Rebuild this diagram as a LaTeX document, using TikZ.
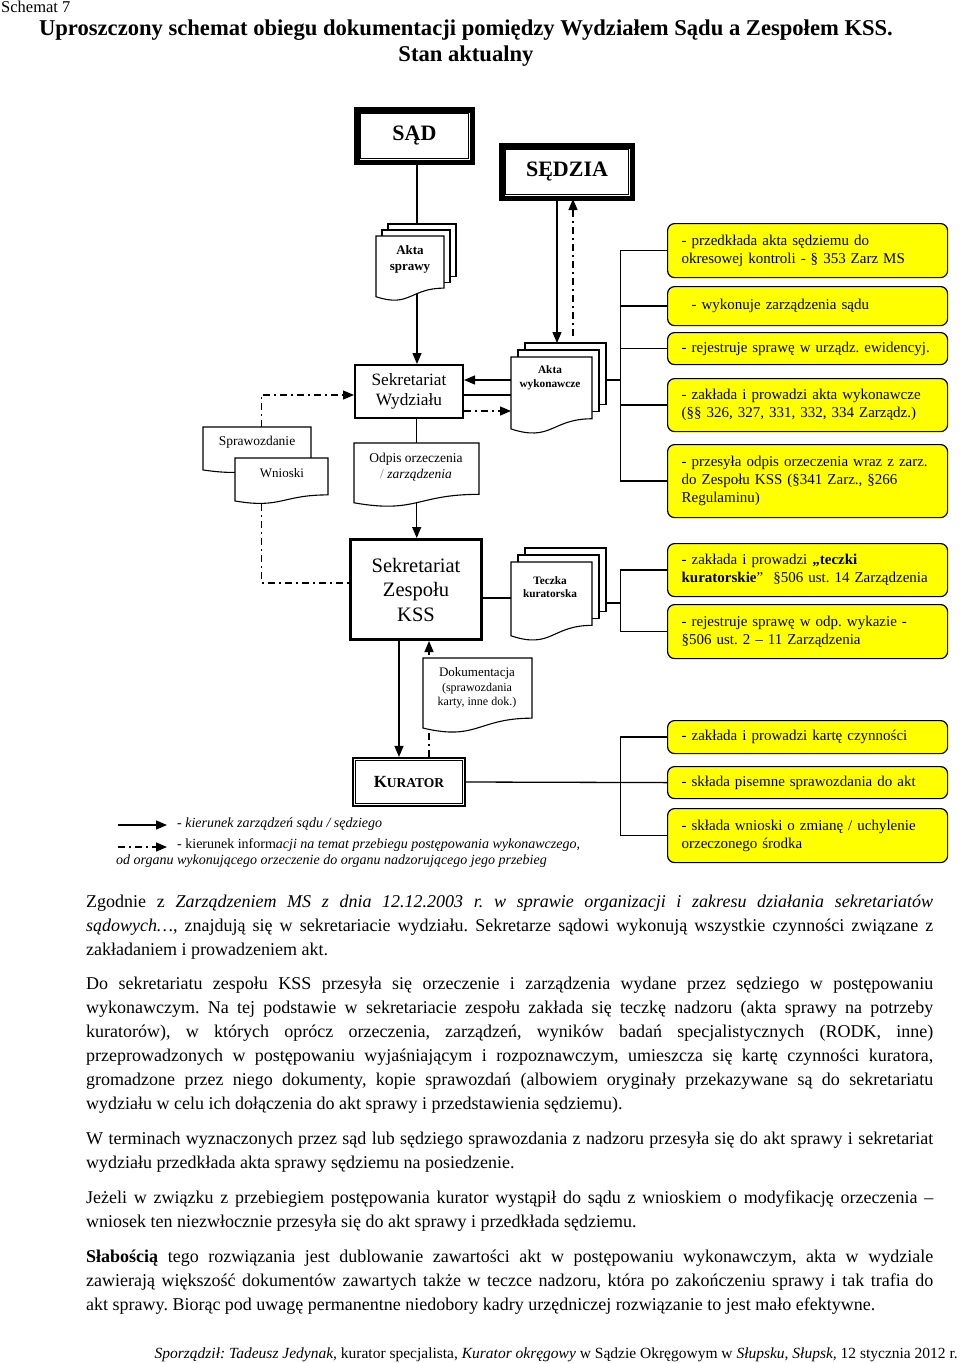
\documentclass[tikz,border=0pt]{standalone}
\usepackage{fontspec}
\setmainfont{Liberation Serif}
\usetikzlibrary{arrows.meta,calc}
\definecolor{ylw}{HTML}{FFFF00}
\newcommand\fs[2]{\fontsize{#1}{#2}\selectfont}
\newcommand\jl[1]{\makebox[847pt][s]{\spaceskip=0pt\xspaceskip=0pt #1}\\}
\begin{document}
\frenchspacing
\begin{tikzpicture}[x=1pt,y=-1pt,
  ln/.style={draw=black,line width=1.3pt},
  arr/.style={-{Triangle[length=11pt,width=9pt]}},
  dd/.style={dash pattern=on 7pt off 4pt on 2pt off 4pt},
  ybox/.style={draw=black,line width=1.2pt,fill=ylw,rounded corners=7pt,minimum width=280pt,
    text width=252pt,inner xsep=14pt,inner ysep=0pt,align=left,anchor=north west,font=\fs{15}{18}},
  docline/.style={draw=black,line width=1.1pt,fill=white},
  docbox/.style={inner sep=0pt,anchor=north west},
  dbl/.style={draw=black,fill=white,inner sep=0pt,font=\fs{22}{24}\bfseries},
  body/.style={anchor=north west,inner sep=0pt,text width=847pt,align=justify,font=\fs{18}{24}},
]
\useasboundingbox (0,0) rectangle (960,1363);
\fill[white] (0,0) rectangle (960,1363);

% ---------- titles
\node[anchor=west,font=\fs{16.5}{18},inner sep=0pt] (sch) at (1,7) {Schemat 7};
\node[font=\fs{22.6}{26}\bfseries,inner sep=0pt] (tit1) at (466,30) {Uproszczony schemat obiegu dokumentacji pomiędzy Wydziałem Sądu a Zespołem KSS.};
\node[font=\fs{22.6}{26}\bfseries,inner sep=0pt] (tit2) at (466,56) {Stan aktualny};

% ---------- main boxes
\node[dbl,line width=3.5pt,minimum width=113.5pt,minimum height=50.5pt] (sad) at (414.5,136) {SĄD};
\node[dbl,line width=3.5pt,minimum width=128.5pt,minimum height=50.5pt] (sedz) at (567,172) {SĘDZIA};
\node[draw=black,fill=white,line width=2.2pt,minimum width=107.8pt,minimum height=52.8pt,inner sep=0pt,
  align=center,font=\fs{17.3}{20}] (sw) at (409,391.5) {Sekretariat\\Wydziału};
\node[draw=black,fill=white,line width=3pt,minimum width=131pt,minimum height=100pt,inner sep=0pt,
  align=center,font=\fs{20.5}{24.5}] (kss) at (416,589.5) {Sekretariat\\Zespołu\\KSS};
\node[draw=black,fill=white,line width=1.6pt,minimum width=112.5pt,minimum height=48.5pt,inner sep=0pt,
  font=\bfseries] (kur) at (409,782) {{\fs{17}{20}K}{\fs{13.5}{20}URATOR}};

% ---------- yellow boxes
\node[ybox,minimum height=54pt] (y1) at (667,223) {\mbox{- przedkłada akta sędziemu do}\\\mbox{okresowej kontroli - § 353 Zarz MS}};
\node[ybox,minimum height=39pt] (y2) at (667,286) {\mbox{\ \ - wykonuje zarządzenia sądu}};
\node[ybox,minimum height=32pt] (y3) at (667,332) {\mbox{- rejestruje sprawę w urządz. ewidencyj.}};
\node[ybox,minimum height=53pt] (y4) at (667,378) {\mbox{- zakłada i prowadzi akta wykonawcze}\\\mbox{(§§ 326, 327, 331, 332, 334 Zarządz.)}};
\node[ybox,minimum height=73pt] (y5) at (667,444) {\mbox{- przesyła odpis orzeczenia wraz z zarz.}\\\mbox{do Zespołu KSS (§341 Zarz., §266}\\\mbox{Regulaminu)}};
\node[ybox,minimum height=53pt] (y6) at (667,543) {\mbox{- zakłada i prowadzi \textbf{„teczki}}\\\mbox{\textbf{kuratorskie}”\ \ §506 ust. 14 Zarządzenia}};
\node[ybox,minimum height=54pt] (y7) at (667,604) {\mbox{- rejestruje sprawę w odp. wykazie -}\\\mbox{§506 ust. 2 – 11 Zarządzenia}};
\node[ybox,minimum height=33pt] (y8) at (667,720) {\mbox{- zakłada i prowadzi kartę czynności}};
\node[ybox,minimum height=32pt] (y9) at (667,766) {\mbox{- składa pisemne sprawozdania do akt}};
\node[ybox,minimum height=54pt] (y10) at (667,808) {\mbox{- składa wnioski o zmianę / uchylenie}\\\mbox{orzeczonego środka}};

% ---------- document anchor nodes (shapes drawn later, over the connectors)
\node[docbox,minimum width=68pt,minimum height=65pt] (asp) at (376,236) {};
\node[docbox,minimum width=81pt,minimum height=77pt] (akw) at (511,357) {};
\node[docbox,minimum width=81pt,minimum height=61.75pt] (akwback) at (525,343) {};
\node[docbox,minimum width=81pt,minimum height=79pt] (tcz) at (511,562) {};
\node[docbox,minimum width=81pt,minimum height=63.4pt] (tczback) at (525,548) {};
\node[docbox,minimum width=125pt,minimum height=64pt] (odp) at (354,443) {};
\node[docbox,minimum width=108pt,minimum height=46pt] (spr) at (203,427) {};
\node[docbox,minimum width=93pt,minimum height=46pt] (wni) at (235,458) {};
\node[docbox,minimum width=109pt,minimum height=75pt] (dok) at (423,658) {};

% ---------- connectors
\coordinate (c1) at ([shift={(2.5,0)}]sad.south);
\draw[ln,arr] (c1) -- (c1 |- sw.north);
\draw[ln,arr] (odp.north |- sw.south) -- (odp.north |- kss.north);

\coordinate (sd1) at ([shift={(-10,0)}]sedz.south);
\draw[ln,arr] (sd1) -- (sd1 |- akwback.north);
\coordinate (sd2) at ([shift={(6,0)}]sedz.south);
\coordinate (sd3) at (sd2 |- akwback.north);
\draw[ln,dd,arr] ([shift={(0,-7)}]sd3) -- (sd2);

\coordinate (wa) at ([shift={(0,-11.5)}]sw.east);
\coordinate (wb) at ([shift={(0,3.5)}]sw.east);
\coordinate (wc) at ([shift={(0,19.5)}]sw.east);
\draw[ln,arr] (wa -| akw.west) -- (wa);
\draw[ln] (wb -| akw.west) -- (wb);
\draw[ln,dd,arr] (wc) -- (wc -| akw.west);

\coordinate (bk1) at ($(wa -| akwback.east)+(14,0)$);
\draw[ln] (wa -| akwback.east) -- (bk1);
\draw[ln] (bk1 |- y1.west) -- (bk1 |- y5.west);
\foreach \i in {1,...,5} \draw[ln] (bk1 |- y\i.west) -- (y\i.west);

\draw[ln,dd,arr] ([shift={(4,0)}]spr.north) |- ([shift={(0,3.5)}]sw.west);
\draw[ln,dd] ([shift={(-20.5,0)}]wni.south) |- ([shift={(0,-6.5)}]kss.west);

\coordinate (ka) at ([shift={(0,8.5)}]kss.east);
\draw[ln] (ka) -- (ka -| tcz.west);
\coordinate (kb) at ([shift={(0,5)}]ka);
\coordinate (bk2) at ($(kb -| tczback.east)+(14,0)$);
\draw[ln] (kb -| tczback.east) -- (bk2);
\draw[ln] (bk2 |- y6.west) -- (bk2 |- y7.west);
\foreach \i in {6,7} \draw[ln] (bk2 |- y\i.west) -- (y\i.west);

\coordinate (kk) at ([shift={(-17,0)}]kss.south);
\draw[ln,arr] (kk) -- (kk |- kur.north);
\coordinate (kd) at ([shift={(20,0)}]kur.north);
\draw[ln,dd,arr] (kd) -- (kd |- kss.south);

\draw[ln] (kur.east) -- (y9.west);
\draw[ln] (bk2 |- y8.west) -- (bk2 |- y10.west);
\foreach \i in {8,10} \draw[ln] (bk2 |- y\i.west) -- (y\i.west);

% ---------- document shapes
\draw[docline] (388,224) rectangle ++(68,52.1);
\draw[docline] (382,230) rectangle ++(68,52.1);
\draw[docline] (376,236) -- (444,236) -- (444,236+0.802*65) .. controls (410,236+0.802*65) and (410,236+1.107*65) .. (376,236+0.934*65) -- cycle;

\draw[docline] (525,343) rectangle ++(81,61.75);
\draw[docline] (518,350) rectangle ++(81,61.75);
\draw[docline] (511,357) -- (592,357) -- (592,357+0.802*77) .. controls (551.5,357+0.802*77) and (551.5,357+1.107*77) .. (511,357+0.934*77) -- cycle;

\draw[docline] (525,548) rectangle ++(81,63.4);
\draw[docline] (518,555) rectangle ++(81,63.4);
\draw[docline] (511,562) -- (592,562) -- (592,562+0.802*79) .. controls (551.5,562+0.802*79) and (551.5,562+1.107*79) .. (511,562+0.934*79) -- cycle;

\draw[docline] (354,443) -- (479,443) -- (479,443+0.802*64) .. controls (416.5,443+0.802*64) and (416.5,443+1.107*64) .. (354,443+0.934*64) -- cycle;
\draw[docline] (203,427) -- (311,427) -- (311,427+0.802*46) .. controls (257,427+0.802*46) and (257,427+1.107*46) .. (203,427+0.934*46) -- cycle;
\draw[docline] (235,458) -- (328,458) -- (328,458+0.802*46) .. controls (281.5,458+0.802*46) and (281.5,458+1.107*46) .. (235,458+0.934*46) -- cycle;
\draw[docline] (423,658) -- (532,658) -- (532,658+0.802*75) .. controls (477.5,658+0.802*75) and (477.5,658+1.107*75) .. (423,658+0.934*75) -- cycle;

% ---------- box borders on top
\draw[line width=3.5pt] (sad.north west) rectangle (sad.south east);
\draw[line width=0.8pt] ([shift={(4.5,4.5)}]sad.north west) rectangle ([shift={(-4.5,-4.5)}]sad.south east);
\draw[line width=3.5pt] (sedz.north west) rectangle (sedz.south east);
\draw[line width=0.8pt] ([shift={(4.5,4.5)}]sedz.north west) rectangle ([shift={(-4.5,-4.5)}]sedz.south east);
\draw[line width=1pt] ([shift={(4,4)}]kur.north west) rectangle ([shift={(-4,-4)}]kur.south east);

% ---------- document texts
\node[font=\fs{13}{16}\bfseries,align=center,inner sep=0pt] (aspT) at (410,259) {Akta\\sprawy};
\node[font=\fs{11.3}{14}\bfseries,align=center,inner sep=0pt] (akwT) at (550,378) {Akta\\wykonawcze};
\node[font=\fs{11.3}{13.5}\bfseries,align=center,inner sep=0pt] (tczT) at (550,587) {Teczka\\kuratorska};
\node[font=\fs{13.5}{16},inner sep=0pt] (sprT) at (257,442) {Sprawozdanie};
\node[font=\fs{13}{16},inner sep=0pt] (wniT) at (282,473) {Wnioski};
\node[font=\fs{13.5}{16},align=center,inner sep=0pt] (odpT) at (416,467) {Odpis orzeczenia\\{\color{gray}/} \textit{zarządzenia}};
\node[font=\fs{13}{14.5},align=center,inner sep=0pt] (dokT) at (477,688) {Dokumentacja\\{\fs{12}{14.5}(sprawozdania}\\{\fs{12}{14.5}karty, inne dok.)}};

% ---------- legend
\coordinate (la1) at (118,825); \coordinate (la2) at (167,825);
\draw[ln,arr] (la1) -- (la2);
\coordinate (lb1) at (118,847); \coordinate (lb2) at (167,847);
\draw[ln,dd,arr] (lb1) -- (lb2);
\node[anchor=west,inner sep=0pt,font=\fs{14}{16}\itshape] (lt1) at (177,824) {- kierunek zarządzeń sądu / sędziego};
\node[anchor=west,inner sep=0pt,font=\fs{14}{16}] (lt2) at (177,845) {- kierunek inform\textit{acji na temat przebiegu postępowania wykonawczego,}};
\node[anchor=west,inner sep=0pt,font=\fs{14}{16}\itshape] (lt3) at (116,861) {od organu wykonującego orzeczenie do organu nadzorującego jego przebieg};

% ---------- body text
\node[body] (p1) at (86,890) {\strut\jl{Zgodnie z \textit{Zarządzeniem MS z dnia 12.12.2003 r. w sprawie organizacji i zakresu działania sekretariatów}}\jl{\textit{sądowych…}, znajdują się w sekretariacie wydziału. Sekretarze sądowi wykonują wszystkie czynności związane z}zakładaniem i prowadzeniem akt.};
\node[body] (p2) at (86,972) {\strut\jl{Do sekretariatu zespołu KSS przesyła się orzeczenie i zarządzenia wydane przez sędziego w postępowaniu}\jl{wykonawczym. Na tej podstawie w sekretariacie zespołu zakłada się teczkę nadzoru (akta sprawy na potrzeby}\jl{kuratorów), w których oprócz orzeczenia, zarządzeń, wyników badań specjalistycznych (RODK, inne)}\jl{przeprowadzonych w postępowaniu wyjaśniającym i rozpoznawczym, umieszcza się kartę czynności kuratora,}\jl{gromadzone przez niego dokumenty, kopie sprawozdań (albowiem oryginały przekazywane są do sekretariatu}wydziału w celu ich dołączenia do akt sprawy i przedstawienia sędziemu).};
\node[body] (p3) at (86,1127) {\strut\jl{W terminach wyznaczonych przez sąd lub sędziego sprawozdania z nadzoru przesyła się do akt sprawy i sekretariat}wydziału przedkłada akta sprawy sędziemu na posiedzenie.};
\node[body] (p4) at (86,1186) {\strut\jl{Jeżeli w związku z przebiegiem postępowania kurator wystąpił do sądu z wnioskiem o modyfikację orzeczenia –}wniosek ten niezwłocznie przesyła się do akt sprawy i przedkłada sędziemu.};
\node[body] (p5) at (86,1245) {\strut\jl{\textbf{Słabością} tego rozwiązania jest dublowanie zawartości akt w postępowaniu wykonawczym, akta w wydziale}\jl{zawierają większość dokumentów zawartych także w teczce nadzoru, która po zakończeniu sprawy i tak trafia do}akt sprawy. Biorąc pod uwagę permanentne niedobory kadry urzędniczej rozwiązanie to jest mało efektywne.};
\node[anchor=base east,inner sep=0pt,font=\fs{15.5}{18}] (foot) at (958,1358) {\textit{Sporządził: Tadeusz Jedynak,} kurator specjalista, \textit{Kurator okręgowy} w Sądzie Okręgowym w \textit{Słupsku, Słupsk,} 12 stycznia 2012 r.};
\end{tikzpicture}
\end{document}
